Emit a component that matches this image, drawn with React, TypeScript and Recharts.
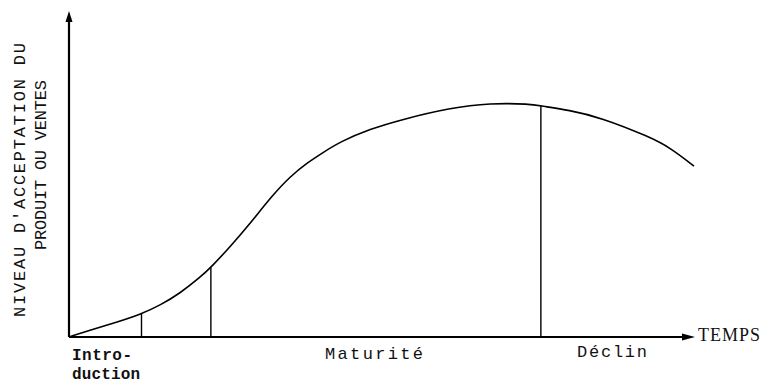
import React from 'react';
import {
  LineChart,
  Line,
  XAxis,
  YAxis,
  ReferenceLine,
  ReferenceDot,
  Customized,
} from 'recharts';

// time (0-100) and acceptance level (0-100)
const time = [0, 3.4, 7.4, 11.6, 14.6, 17.8, 21, 22.7, 25.8, 29, 32.6, 35.4, 38.1, 40.6, 43.4, 48.2, 53, 61, 67.4, 73.8, 75.5, 80, 85, 93, 96.2, 100];
const acceptance = [0, 2.1, 4.4, 7.1, 9.8, 13.5, 18.4, 21.4, 27.8, 35, 43.7, 49.4, 53.6, 56.7, 60.1, 64, 66.8, 70.5, 72, 71.7, 71.1, 69.8, 67.6, 61.5, 58.2, 52.6];

// phase boundaries (times where the vertical dividers stand)
const phaseBounds = [11.6, 22.7, 75.5];

const data = time.map((t, i) => ({ t, v: acceptance[i] }));
const levelAt = (t: number) => acceptance[time.indexOf(t)];

const mono = '"Liberation Mono", "DejaVu Sans Mono", monospace';

const ArrowUp = (props: any) => {
  const { cx, cy } = props;
  return <path d={`M${cx},${cy - 1} L${cx - 3.5},${cy + 10} L${cx + 3.5},${cy + 10} Z`} fill="#000" />;
};

const ArrowRight = (props: any) => {
  const { cx, cy } = props;
  return <path d={`M${cx + 1},${cy} L${cx - 12},${cy - 3.5} L${cx - 12},${cy + 3.5} Z`} fill="#000" />;
};

const Annotations = () => (
  <g fill="#111">
    <text
      transform="translate(25,317) rotate(-90)"
      fontFamily={mono}
      fontSize={17}
      textLength={274}
      lengthAdjust="spacing"
    >
      NIVEAU D'ACCEPTATION DU
    </text>
    <text
      transform="translate(46,250) rotate(-90)"
      fontFamily={mono}
      fontSize={17}
      textLength={170}
      lengthAdjust="spacing"
    >
      PRODUIT OU VENTES
    </text>
    <text x={72} y={360} fontFamily={mono} fontSize={16} fontWeight="bold" textLength={60} lengthAdjust="spacing">
      Intro-
    </text>
    <text x={72} y={379} fontFamily={mono} fontSize={16} fontWeight="bold" textLength={68} lengthAdjust="spacing">
      duction
    </text>
    <text x={325} y={359} fontFamily={mono} fontSize={17} textLength={98} lengthAdjust="spacing">
      Maturité
    </text>
    <text x={577} y={357} fontFamily={mono} fontSize={17} textLength={70} lengthAdjust="spacing">
      Déclin
    </text>
    <text x={698} y={341} fontFamily='"Liberation Serif", serif' fontSize={18} textLength={62} lengthAdjust="spacing">
      TEMPS
    </text>
  </g>
);

export default function App() {
  return (
    <div style={{ position: 'absolute', left: 0, top: 0, width: 764, height: 385, background: '#fff' }}>
      <LineChart
        width={764}
        height={385}
        data={data}
        margin={{ top: 12, right: 70, bottom: 48, left: 69 }}
      >
        <XAxis dataKey="t" type="number" domain={[0, 100]} hide />
        <YAxis type="number" domain={[0, 100]} hide />
        {/* axes drawn as reference segments so they sit exactly on the plot edges */}
        <ReferenceLine
          segment={[{ x: 0, y: 0 }, { x: 98.5, y: 0 }]}
          stroke="#000"
          strokeWidth={2.2}
          ifOverflow="visible"
        />
        <ReferenceLine
          segment={[{ x: 0, y: 0 }, { x: 0, y: 97 }]}
          stroke="#000"
          strokeWidth={2.2}
          ifOverflow="visible"
        />
        {phaseBounds.map((t) => (
          <ReferenceLine
            key={t}
            segment={[{ x: t, y: 0 }, { x: t, y: levelAt(t) }]}
            stroke="#000"
            strokeWidth={1.4}
          />
        ))}
        <Line
          type="basis"
          dataKey="v"
          stroke="#000"
          strokeWidth={1.6}
          dot={false}
          activeDot={false}
          isAnimationActive={false}
        />
        <ReferenceDot x={0} y={100} r={0} ifOverflow="visible" shape={ArrowUp} />
        <ReferenceDot x={100} y={0} r={0} ifOverflow="visible" shape={ArrowRight} />
        <Customized component={Annotations} />
      </LineChart>
    </div>
  );
}
